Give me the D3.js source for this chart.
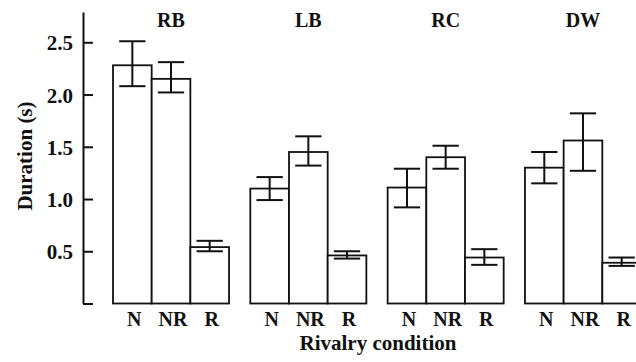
<!DOCTYPE html>
<html>
<head>
<meta charset="utf-8">
<script src="https://cdn.jsdelivr.net/npm/d3@7"></script>
<style>
  body { margin: 0; background: #fff; }
  svg text { font-family: "Liberation Serif", "Times New Roman", serif; font-weight: bold; fill: #111; }
</style>
</head>
<body>
<div id="chart"></div>
<script>
// data
const groups = ["RB", "LB", "RC", "DW"];
const conditions = ["N", "NR", "R"];
const means = [
    [2.28, 2.15, 0.54],
    [1.10, 1.45, 0.46],
    [1.11, 1.40, 0.44],
    [1.30, 1.56, 0.39]
];
const errHigh = [
    [2.51, 2.31, 0.60],
    [1.21, 1.60, 0.50],
    [1.29, 1.51, 0.52],
    [1.45, 1.82, 0.44]
];
const errLow = [
    [2.08, 2.02, 0.50],
    [0.99, 1.32, 0.43],
    [0.92, 1.29, 0.37],
    [1.15, 1.27, 0.36]
];
const yTicks = [0, 0.5, 1.0, 1.5, 2.0, 2.5];

const width = 636, height = 362;

const svg = d3.select("#chart").append("svg")
    .attr("width", width)
    .attr("height", height);

const y = d3.scaleLinear().domain([0, 2.79]).range([303.5, 12]);

const x0 = d3.scaleBand()
    .domain(groups)
    .range([113, 641])
    .paddingInner(0.155);

const x1 = d3.scaleBand()
    .domain(conditions)
    .range([0, x0.bandwidth()]);

// y axis, ticks pointing inward
const yAxis = svg.append("g")
    .attr("transform", "translate(83,0)")
    .call(d3.axisLeft(y)
        .tickValues(yTicks)
        .tickSizeInner(-10)
        .tickSizeOuter(0)
        .tickPadding(10)
        .tickFormat(d => d === 0 ? "" : d3.format(".1f")(d)));
yAxis.select(".domain").attr("stroke", "#111").attr("stroke-width", 2);
yAxis.selectAll(".tick line").attr("stroke", "#111").attr("stroke-width", 2);
yAxis.selectAll(".tick text")
    .attr("font-size", 21)
    .attr("dy", "0.36em");

// flatten for drawing
const rows = [];
groups.forEach((g, i) => {
    conditions.forEach((c, j) => {
        rows.push({ g: g, c: c, v: means[i][j], hi: errHigh[i][j], lo: errLow[i][j] });
    });
});

const bars = svg.append("g");
bars.selectAll("rect")
    .data(rows)
    .enter().append("rect")
    .attr("x", d => x0(d.g) + x1(d.c))
    .attr("y", d => y(d.v))
    .attr("width", x1.bandwidth())
    .attr("height", d => y(0) - y(d.v))
    .attr("fill", "#fff")
    .attr("stroke", "#111")
    .attr("stroke-width", 1.8);

// error bars
const capW = x1.bandwidth() * 0.34;
const err = svg.append("g").attr("stroke", "#111").attr("stroke-width", 2);
rows.forEach(d => {
    const cx = x0(d.g) + x1(d.c) + x1.bandwidth() / 2;
    err.append("line").attr("x1", cx).attr("x2", cx).attr("y1", y(d.hi)).attr("y2", y(d.lo));
    err.append("line").attr("x1", cx - capW).attr("x2", cx + capW).attr("y1", y(d.hi)).attr("y2", y(d.hi));
    err.append("line").attr("x1", cx - capW).attr("x2", cx + capW).attr("y1", y(d.lo)).attr("y2", y(d.lo));
});

// group titles
svg.append("g").selectAll("text")
    .data(groups)
    .enter().append("text")
    .attr("x", d => x0(d) + x0.bandwidth() / 2)
    .attr("y", 27)
    .attr("text-anchor", "middle")
    .attr("font-size", 20)
    .text(d => d);

// condition labels
svg.append("g").selectAll("text")
    .data(rows)
    .enter().append("text")
    .attr("x", d => x0(d.g) + x1(d.c) + x1.bandwidth() / 2 + 2)
    .attr("y", 326)
    .attr("text-anchor", "middle")
    .attr("font-size", 20)
    .text(d => d.c);

// axis titles
svg.append("text")
    .attr("x", 378)
    .attr("y", 350)
    .attr("text-anchor", "middle")
    .attr("font-size", 21)
    .text("Rivalry condition");

svg.append("text")
    .attr("transform", "translate(32,156) rotate(-90)")
    .attr("text-anchor", "middle")
    .attr("font-size", 21)
    .text("Duration (s)");
</script>
</body>
</html>
